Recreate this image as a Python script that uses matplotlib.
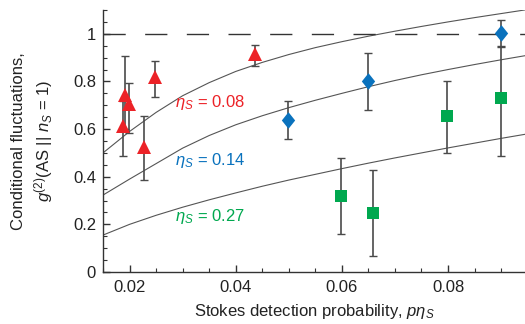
import matplotlib
matplotlib.use('Agg')
import matplotlib.pyplot as plt
from matplotlib.ticker import MultipleLocator, FixedLocator

plt.rcParams['font.family'] = ['Liberation Sans', 'DejaVu Sans']
plt.rcParams['mathtext.fontset'] = 'custom'
plt.rcParams['mathtext.rm'] = 'Liberation Sans'
plt.rcParams['mathtext.it'] = 'Liberation Sans:italic'

# measured points (eta_S = 0.08, 0.14, 0.27)
red_x = [0.0191, 0.0199, 0.0187, 0.0228, 0.0248, 0.0436]
red_y = [0.744, 0.705, 0.613, 0.524, 0.817, 0.915]
red_lo = [0.60, 0.583, 0.487, 0.387, 0.734, 0.863]
red_hi = [0.905, 0.793, 0.72, 0.653, 0.884, 0.955]

blue_x = [0.0499, 0.0649, 0.0900]
blue_y = [0.639, 0.803, 1.003]
blue_lo = [0.559, 0.681, 0.947]
blue_hi = [0.72, 0.921, 1.056]

green_x = [0.0598, 0.0658, 0.0798, 0.0900]
green_y = [0.319, 0.249, 0.653, 0.732]
green_lo = [0.16, 0.069, 0.499, 0.489]
green_hi = [0.478, 0.43, 0.80, 0.945]

# theory curves
curve_x = [0.015, 0.02, 0.025, 0.03, 0.035, 0.04, 0.045, 0.05, 0.055,
           0.06, 0.065, 0.07, 0.075, 0.08, 0.085, 0.09, 0.095]
curve_008 = [0.50, 0.59, 0.67, 0.74, 0.795, 0.842, 0.88, 0.913, 0.942,
             0.967, 0.99, 1.011, 1.031, 1.05, 1.068, 1.085, 1.102]
curve_014 = [0.323, 0.39, 0.455, 0.52, 0.573, 0.618, 0.656, 0.69, 0.721,
             0.75, 0.778, 0.804, 0.828, 0.85, 0.871, 0.891, 0.91]
curve_027 = [0.155, 0.20, 0.238, 0.272, 0.303, 0.332, 0.36, 0.386, 0.41,
             0.434, 0.457, 0.479, 0.50, 0.521, 0.541, 0.561, 0.58]

RED = '#ec2227'
BLUE = '#0a72bd'
GREEN = '#00a84f'
BAR = '#4a4a4a'

fig = plt.figure(figsize=(5.25, 3.24), dpi=100)
ax = fig.add_axes([103 / 525, 1 - 272 / 324, 422 / 525, 262 / 324])

for cy in (curve_008, curve_014, curve_027):
    ax.plot(curve_x, cy, color='#555555', lw=0.8, zorder=1)

ax.axhline(1.0, color='#333333', lw=1.0, dashes=(16, 14), zorder=1)

def draw(xs, ys, lo, hi, color, marker, ms):
    err = [[y - l for y, l in zip(ys, lo)], [h - y for y, h in zip(ys, hi)]]
    ax.errorbar(xs, ys, yerr=err, fmt='none', ecolor=BAR, elinewidth=1.2,
                capsize=3, capthick=1.0, zorder=2)
    ax.plot(xs, ys, ls='none', marker=marker, ms=ms, color=color,
            markeredgewidth=0, zorder=3)

diamond = [(0, 1), (0.8, 0), (0, -1), (-0.8, 0), (0, 1)]
draw(red_x, red_y, red_lo, red_hi, RED, '^', 10.5)
draw(blue_x, blue_y, blue_lo, blue_hi, BLUE, diamond, 12)
draw(green_x, green_y, green_lo, green_hi, GREEN, 's', 8.5)

ax.text(0.0285, 0.71, r'$\eta_S$ = 0.08', color=RED, fontsize=12, va='center')
ax.text(0.0285, 0.47, r'$\eta_S$ = 0.14', color=BLUE, fontsize=12, va='center')
ax.text(0.0285, 0.235, r'$\eta_S$ = 0.27', color=GREEN, fontsize=12, va='center')

ax.set_xlim(0.015, 0.0945)
ax.set_ylim(0, 1.1)
ax.xaxis.set_major_locator(FixedLocator([0.02, 0.04, 0.06, 0.08]))
ax.xaxis.set_minor_locator(MultipleLocator(0.005))
ax.yaxis.set_major_locator(FixedLocator([0, 0.2, 0.4, 0.6, 0.8, 1.0]))
ax.yaxis.set_minor_locator(MultipleLocator(0.05))
ax.set_xticklabels(['0.02', '0.04', '0.06', '0.08'])
ax.set_yticklabels(['0', '0.2', '0.4', '0.6', '0.8', '1'])

for side in ('top', 'right'):
    ax.spines[side].set_visible(False)
for side in ('left', 'bottom'):
    ax.spines[side].set_color('#333333')
    ax.spines[side].set_linewidth(1.0)

ax.tick_params(which='both', direction='in', colors='#333333', labelcolor='#222222')
ax.tick_params(which='major', length=5, width=1.0, labelsize=12)
ax.tick_params(which='minor', length=3, width=0.8)
ax.tick_params(axis='x', pad=6)
ax.tick_params(axis='y', pad=5)

ax.set_xlabel(r'Stokes detection probability, $p\eta_S$', fontsize=12,
              color='#222222', labelpad=5)
ax.set_ylabel('Conditional fluctuations,\n' + r'$g^{(2)}$(AS || $n_S$ = 1)',
              fontsize=12, color='#222222', labelpad=13, linespacing=1.35)

fig.savefig('out.png', dpi=100)
